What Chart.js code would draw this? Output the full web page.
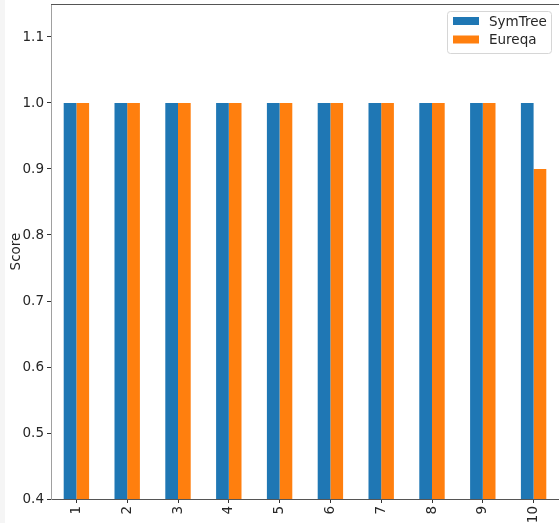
<!DOCTYPE html>
<html>
<head>
<meta charset="utf-8">
<script src="https://cdn.jsdelivr.net/npm/chart.js@4/dist/chart.umd.min.js"></script>
<style>
  html, body { margin: 0; padding: 0; background: #ffffff; }
  #wrap { position: relative; width: 559px; height: 523px; }
</style>
</head>
<body>
<div id="wrap"><canvas id="scoreChart" width="559" height="523"></canvas></div>
<script>
// data
const categories = ['1', '2', '3', '4', '5', '6', '7', '8', '9', '10'];
const symTreeScores = [1.0, 1.0, 1.0, 1.0, 1.0, 1.0, 1.0, 1.0, 1.0, 1.0];
const eureqaScores = [1.0, 1.0, 1.0, 1.0, 1.0, 1.0, 1.0, 1.0, 1.0, 0.9];
const yTicks = [0.4, 0.5, 0.6, 0.7, 0.8, 0.9, 1.0, 1.1];

const FONT = "'DejaVu Sans', sans-serif";
const FONT_SIZE = 13.5;

// background, the light strip on the left and the top spine
const framePlugin = {
    id: 'frame',
    beforeDraw(chart) {
        const ctx = chart.ctx;
        ctx.save();
        ctx.fillStyle = '#ffffff';
        ctx.fillRect(0, 0, chart.width, chart.height);
        ctx.fillStyle = '#f5f5f5';
        ctx.fillRect(0, 0, 5, chart.height);
        ctx.restore();
    },
    afterDraw(chart) {
        const a = chart.chartArea;
        const ctx = chart.ctx;
        ctx.save();
        ctx.strokeStyle = '#555555';
        ctx.lineWidth = 1;
        ctx.beginPath();
        ctx.moveTo(a.left, a.top + 0.5);
        ctx.lineTo(a.right, a.top + 0.5);
        ctx.stroke();
        ctx.restore();
    }
};

// matplotlib-like legend box, drawn from the datasets
const boxLegend = {
    id: 'boxLegend',
    afterDraw(chart) {
        const ctx = chart.ctx;
        const x = 447, y = 11, w = 104, h = 42;
        ctx.save();
        ctx.fillStyle = 'rgba(255,255,255,0.8)';
        ctx.strokeStyle = '#d6d6d6';
        ctx.lineWidth = 1;
        ctx.beginPath();
        ctx.roundRect(x + 0.5, y + 0.5, w, h, 3);
        ctx.fill();
        ctx.stroke();
        ctx.font = FONT_SIZE + 'px ' + FONT;
        ctx.textBaseline = 'middle';
        chart.data.datasets.forEach((ds, i) => {
            const rowY = y + 10 + i * 18.5;
            ctx.fillStyle = ds.backgroundColor;
            ctx.fillRect(x + 6, rowY - 4, 26, 8);
            ctx.fillStyle = '#262626';
            ctx.fillText(ds.label, x + 42, rowY + 1);
        });
        ctx.restore();
    }
};

new Chart(document.getElementById('scoreChart'), {
    type: 'bar',
    data: {
        labels: categories,
        datasets: [
            { label: 'SymTree', data: symTreeScores, backgroundColor: '#1f77b4' },
            { label: 'Eureqa', data: eureqaScores, backgroundColor: '#ff7f0e' }
        ]
    },
    options: {
        responsive: false,
        animation: false,
        devicePixelRatio: 1,
        layout: { padding: { top: 4, right: 0, left: 0, bottom: 0 } },
        datasets: {
            bar: { categoryPercentage: 0.5, barPercentage: 1.0, borderWidth: 0 }
        },
        plugins: {
            legend: { display: false },
            tooltip: { enabled: false }
        },
        scales: {
            x: {
                grid: { display: true, drawOnChartArea: false, offset: false, tickLength: 4, color: '#333333' },
                border: { color: '#555555' },
                ticks: {
                    autoSkip: false, maxRotation: 90, minRotation: 90, padding: 3,
                    color: '#262626', font: { family: FONT, size: FONT_SIZE }
                },
                afterFit(scale) {
                    scale.height = 24;
                    scale.paddingLeft = 0;
                    scale.paddingRight = 0;
                }
            },
            y: {
                min: 0.4,
                max: 1.15,
                grid: { display: true, drawOnChartArea: false, tickLength: 4, color: '#333333' },
                border: { color: '#a0a0a0' },
                ticks: {
                    padding: 3, color: '#262626', font: { family: FONT, size: FONT_SIZE },
                    callback: v => v.toFixed(1)
                },
                afterBuildTicks(scale) { scale.ticks = yTicks.map(v => ({ value: v })); },
                title: {
                    display: true, text: 'Score', color: '#262626',
                    font: { family: FONT, size: FONT_SIZE }, padding: { top: 8, bottom: 0 }
                },
                afterFit(scale) {
                    scale.width = 51;
                    scale.paddingTop = 0;
                    scale.paddingBottom = 0;
                }
            }
        }
    },
    plugins: [framePlugin, boxLegend]
});
</script>
</body>
</html>
